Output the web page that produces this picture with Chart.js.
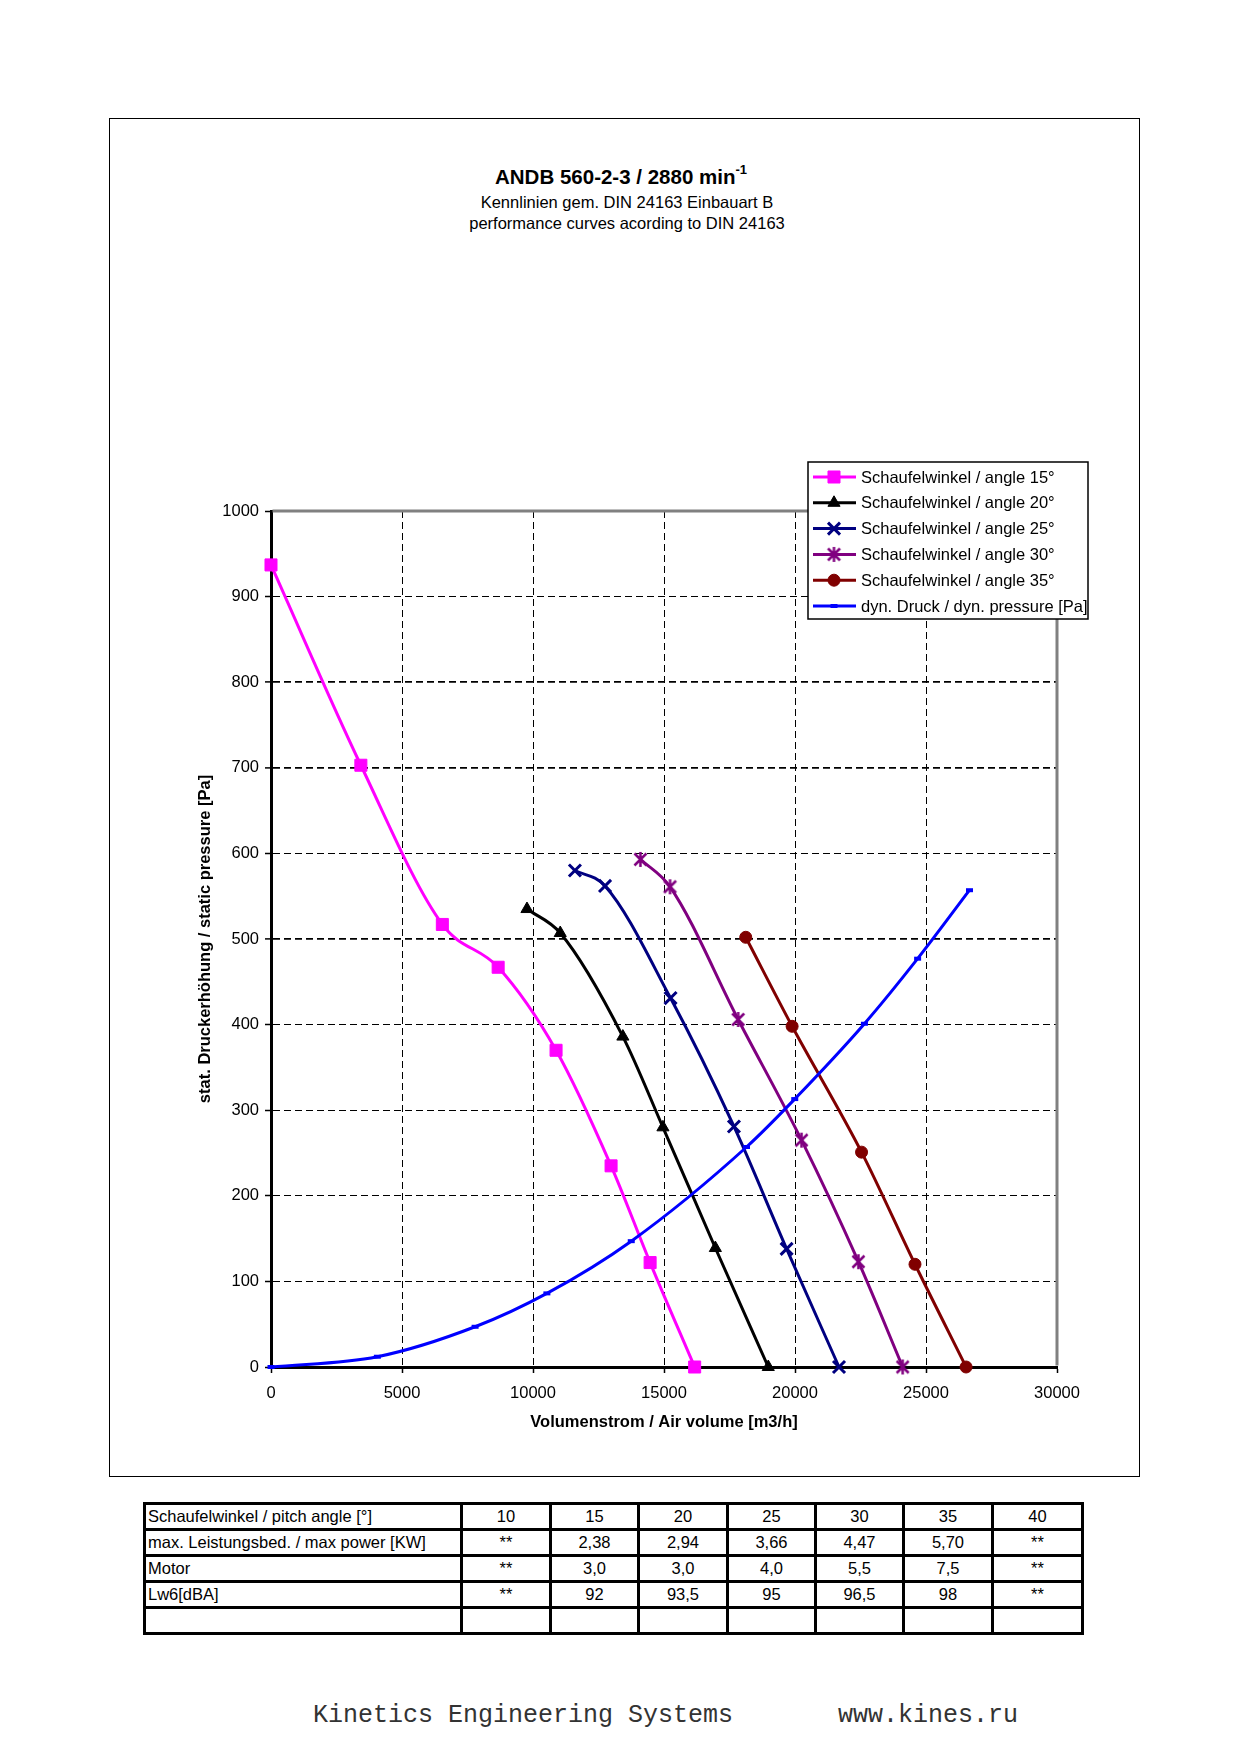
<!DOCTYPE html>
<html>
<head>
<meta charset="utf-8">
<title>ANDB 560-2-3 / 2880 min-1</title>
<script src="https://cdn.jsdelivr.net/npm/chart.js@4.4.1/dist/chart.umd.min.js"></script>
<style>
  html, body { margin: 0; padding: 0; background: #fff; }
  body { width: 1240px; height: 1755px; position: relative; font-family: "Liberation Sans", Arial, sans-serif; color: #000; overflow: hidden; }
  .frame { position: absolute; left: 109px; top: 118px; width: 1031px; height: 1359px; border: 1px solid #000; box-sizing: border-box; }
  #plot { position: absolute; left: 109px; top: 118px; width: 1027px; height: 1354px; }
  .head { position: absolute; left: 0; text-align: center; white-space: nowrap; }
  .head.main { width: 1242px; top: 160px; font-size: 20.5px; font-weight: bold; line-height: 24px; }
  .head.main sup { font-size: 13px; position: relative; top: -2px; }
  .head.sub { width: 1254px; font-size: 16.5px; line-height: 20px; }
  table.specs { position: absolute; left: 143px; top: 1502px; border-collapse: collapse; table-layout: fixed; width: 938px; font-size: 16.5px; }
  table.specs td { border: 3px solid #000; height: 23px; padding: 0 2px; text-align: center; white-space: nowrap; overflow: hidden; }
  table.specs td:first-child { text-align: left; }
  .footer { position: absolute; left: 313px; top: 1701px; font-family: "Liberation Mono", "DejaVu Sans Mono", monospace; font-size: 25px; line-height: 30px; white-space: pre; color: #333; }
</style>
</head>
<body>
<div class="frame"></div>
<div class="head main">ANDB 560-2-3 / 2880 min<sup>-1</sup></div>
<div class="head sub" style="top:192px">Kennlinien gem. DIN 24163 Einbauart B</div>
<div class="head sub" style="top:213px">performance curves acording to DIN 24163</div>
<div id="plot"><canvas id="myChart"></canvas></div>
<table class="specs" id="specs"></table>
<div class="footer">Kinetics Engineering Systems       www.kines.ru</div>
<script>
// DATA
const angle15X = [0, 3430, 6540, 8670, 10880, 12980, 14470, 16170];
const angle15Y = [937, 703, 517, 467, 370, 235, 122, 0];
const angle20X = [9770, 11040, 13430, 14960, 16960, 18980];
const angle20Y = [535, 507, 386, 280, 139, 0];
const angle25X = [11600, 12750, 15250, 17670, 19680, 21680];
const angle25Y = [580, 562, 431, 281, 138, 0];
const angle30X = [14100, 15230, 17830, 20250, 22420, 24110];
const angle30Y = [593, 561, 406, 265, 123, 0];
const angle35X = [18120, 19890, 22540, 24580, 26530];
const angle35Y = [502, 398, 251, 120, 0];
const dynX = [0, 4060, 7790, 10530, 13750, 18150, 19990, 22650, 24680, 26660];
const dynY = [0, 12, 47, 86, 147, 257, 313, 401, 477, 557];

const xTickValues = [0, 5000, 10000, 15000, 20000, 25000, 30000];
const xTickLabels = ["0", "5000", "10000", "15000", "20000", "25000", "30000"];
const yTickValues = [0, 100, 200, 300, 400, 500, 600, 700, 800, 900, 1000];
const yTickLabels = ["0", "100", "200", "300", "400", "500", "600", "700", "800", "900", "1000"];

const xTitle = "Volumenstrom / Air volume [m3/h]";
const yTitle = "stat. Druckerhöhung / static pressure [Pa]";

// table under the chart
const tableLabels = ["Schaufelwinkel / pitch angle [°]", "max. Leistungsbed. / max power [KW]", "Motor", "Lw6[dBA]", ""];
const pitchAngles = ["10", "15", "20", "25", "30", "35", "40"];
const maxPower = ["**", "2,38", "2,94", "3,66", "4,47", "5,70", "**"];
const motorPower = ["**", "3,0", "3,0", "4,0", "5,5", "7,5", "**"];
const soundLevel = ["**", "92", "93,5", "95", "96,5", "98", "**"];
const emptyRow = ["", "", "", "", "", "", ""];

// build table
const colWidths = [317, 89, 88, 89, 88, 88, 89, 90];
const specs = document.getElementById("specs");
let html = "<colgroup>" + colWidths.map(w => '<col style="width:' + w + 'px">').join("") + "</colgroup>";
[pitchAngles, maxPower, motorPower, soundLevel, emptyRow].forEach((row, r) => {
  html += "<tr><td>" + tableLabels[r] + "</td>" + row.map(v => "<td>" + v + "</td>").join("") + "</tr>";
});
specs.innerHTML = html;

// asterisk marker like the excel one (x with a vertical bar)
function makeStar(color) {
  const c = document.createElement("canvas");
  c.width = 17;
  c.height = 17;
  const g = c.getContext("2d");
  g.strokeStyle = color;
  g.lineWidth = 2.5;
  g.beginPath();
  g.moveTo(2.5, 2.5); g.lineTo(14.5, 14.5);
  g.moveTo(14.5, 2.5); g.lineTo(2.5, 14.5);
  g.moveTo(8.5, 1); g.lineTo(8.5, 16);
  g.stroke();
  return c;
}

function series(label, xs, ys, color, style, radius, bw, i) {
  return {
    label,
    data: xs.map((x, k) => ({ x, y: ys[k] })),
    borderColor: color,
    backgroundColor: color,
    pointBackgroundColor: color,
    pointBorderColor: color,
    pointStyle: style,
    pointRadius: radius,
    pointHoverRadius: radius,
    pointBorderWidth: bw,
    borderWidth: 3,
    showLine: true,
    cubicInterpolationMode: "monotone",
    clip: false,
    order: -i,
  };
}

const datasets = [
  series("Schaufelwinkel / angle 15°", angle15X, angle15Y, "#FF00FF", "rect", 8.5, 1, 0),
  series("Schaufelwinkel / angle 20°", angle20X, angle20Y, "#000000", "triangle", 7, 1, 1),
  series("Schaufelwinkel / angle 25°", angle25X, angle25Y, "#000080", "crossRot", 8.5, 3, 2),
  series("Schaufelwinkel / angle 30°", angle30X, angle30Y, "#800080", makeStar("#800080"), 8, 1, 3),
  series("Schaufelwinkel / angle 35°", angle35X, angle35Y, "#800000", "circle", 6, 1, 4),
  series("dyn. Druck / dyn. pressure [Pa]", dynX, dynY, "#0000FF", "line", 3.5, 4, 5),
];

// grey frame on top / right of the plot area
const plotFrame = {
  id: "plotFrame",
  beforeDatasetsDraw(chart) {
    const { ctx, chartArea: a } = chart;
    ctx.save();
    ctx.strokeStyle = "#808080";
    ctx.lineWidth = 3;
    ctx.beginPath();
    ctx.moveTo(a.left + 1.5, a.top);
    ctx.lineTo(a.right, a.top);
    ctx.lineTo(a.right, a.bottom - 1.5);
    ctx.stroke();
    ctx.restore();
  },
};

// boxed legend, sits over the top right corner
const legendBox = {
  id: "legendBox",
  afterDraw(chart) {
    const { ctx, chartArea: a } = chart;
    const x0 = a.left + 537, y0 = a.top - 49, w = 280, h = 157;
    ctx.save();
    ctx.fillStyle = "#fff";
    ctx.fillRect(x0, y0, w, h);
    ctx.lineWidth = 1.5;
    ctx.strokeStyle = "#000";
    ctx.strokeRect(x0, y0, w, h);
    chart.data.datasets.forEach((ds, i) => {
      const y = y0 + 15 + i * 25.8;
      ctx.strokeStyle = ds.borderColor;
      ctx.lineWidth = 3;
      ctx.beginPath();
      ctx.moveTo(x0 + 5, y);
      ctx.lineTo(x0 + 48, y);
      ctx.stroke();
      ctx.fillStyle = ds.pointBackgroundColor;
      ctx.strokeStyle = ds.pointBorderColor;
      ctx.lineWidth = ds.pointBorderWidth;
      Chart.helpers.drawPoint(ctx, { pointStyle: ds.pointStyle, radius: ds.pointRadius, borderWidth: ds.pointBorderWidth, rotation: 0 }, x0 + 26, y);
      ctx.fillStyle = "#000";
      ctx.font = '16.5px "Liberation Sans", Arial, sans-serif';
      ctx.textAlign = "left";
      ctx.textBaseline = "middle";
      ctx.fillText(ds.label, x0 + 53, y + 1);
    });
    ctx.restore();
  },
};

const boldGridValues = [500, 700, 800];

Chart.defaults.font.family = '"Liberation Sans", Arial, sans-serif';
Chart.defaults.color = "#000";

const config = {
  type: "scatter",
  data: { datasets },
  options: {
    responsive: true,
    maintainAspectRatio: false,
    animation: false,
    layout: { padding: { left: 83, top: 393, right: 79, bottom: 36 } },
    plugins: {
      legend: { display: false },
      tooltip: { enabled: false },
    },
    scales: {
      x: {
        type: "linear",
        min: 0,
        max: 30000,
        afterBuildTicks: s => { s.ticks = xTickValues.map(v => ({ value: v })); },
        afterFit: s => { s.height = 69; },
        ticks: { callback: (v, i) => xTickLabels[i], font: { size: 16.5 }, padding: 11, maxRotation: 0, autoSkip: false },
        grid: {
          color: c => (c.tick && (c.tick.value === 0 || c.tick.value === 30000)) ? "rgba(0,0,0,0)" : "#000",
          lineWidth: 1,
          tickLength: 6,
          tickColor: "#000",
          tickWidth: 1.5,
        },
        border: { display: true, color: "#000", width: 3, dash: [7, 4] },
        title: { display: true, text: xTitle, font: { size: 16.5, weight: "bold" }, padding: { top: 4, bottom: 4 } },
      },
      y: {
        type: "linear",
        min: 0,
        max: 1000,
        afterBuildTicks: s => { s.ticks = yTickValues.map(v => ({ value: v })); },
        afterFit: s => { s.width = 79; },
        ticks: { callback: (v, i) => yTickLabels[i], font: { size: 16.5 }, padding: 6, autoSkip: false },
        grid: {
          color: c => (c.tick && (c.tick.value === 0 || c.tick.value === 1000)) ? "rgba(0,0,0,0)" : "#000",
          lineWidth: c => (c.tick && boldGridValues.includes(c.tick.value)) ? 1.8 : 1,
          tickLength: 6,
          tickColor: "#000",
          tickWidth: 1.5,
        },
        border: { display: true, color: "#000", width: 3, dash: [7, 4] },
        title: { display: true, text: yTitle, font: { size: 16.5, weight: "bold" }, padding: { top: 4, bottom: 4 } },
      },
    },
  },
  plugins: [plotFrame, legendBox],
};

const myChart = new Chart(document.getElementById("myChart"), config);
</script>
</body>
</html>
